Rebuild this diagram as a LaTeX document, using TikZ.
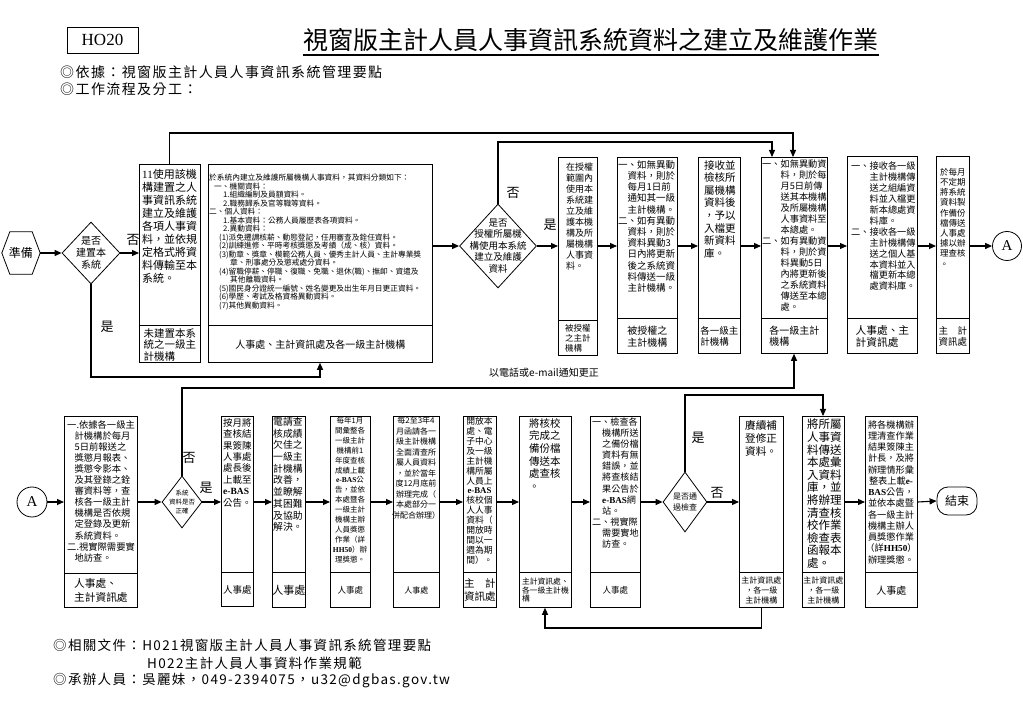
\documentclass[tikz,border=0pt]{standalone}
\usepackage{fontspec}
\setmainfont{Noto Sans CJK TC}
\newfontfamily\lat{Liberation Serif}
\newfontfamily\cjksp[LetterSpace=10]{Noto Sans CJK TC}
\usetikzlibrary{positioning,shapes.geometric,arrows.meta}
\newcommand{\fsz}[2]{\fontsize{#1}{#2}\selectfont}
\newcommand{\eb}{{\lat\bfseries e-BAS}}
\newcommand{\sepline}[2]{\draw[line width=0.8pt] ([yshift=#2pt]#1.south west) -- ([yshift=#2pt]#1.south east);}

\tikzset{
  proc/.style 2 args={draw, anchor=north west, minimum width=#1pt, minimum height=#2pt, inner sep=0pt, line width=0.8pt},
  cond/.style 2 args={draw, diamond, minimum width=#1pt, minimum height=#2pt, inner sep=0pt, line width=0.8pt},
  txt/.style={inner sep=0pt, align=left, anchor=north west},
  ctxt/.style={inner sep=0pt, align=center, anchor=north},
  foot/.style={inner sep=0pt, align=left},
  lbl/.style={inner sep=0pt, font=\fsz{13}{13}},
  link/.style={line width=1.1pt, -{Triangle[length=7pt,width=6pt]}}
}

\begin{document}
\begin{tikzpicture}[x=1pt,y=-1pt]
\fill[white] (0,0) rectangle (1023,708);
\useasboundingbox (0,0) rectangle (1023,708);

% header
\node[draw, line width=0.8pt, minimum width=71pt, minimum height=26pt, inner sep=0pt, font=\lat\fsz{17}{17}] (code) at (102.5,40) {HO20};
\node[inner sep=0pt, font=\fsz{25}{25}] (title) at (591,40) {視窗版主計人員人事資訊系統資料之建立及維護作業};
\draw[line width=1.4pt] ([yshift=-3pt]title.south west) -- ([yshift=-3pt]title.south east);
\node[foot, anchor=west, font=\cjksp\fsz{14}{14}] (basis) at (60,72) {◎依據：視窗版主計人員人事資訊系統管理要點};
\node[foot, anchor=west, font=\cjksp\fsz{14}{14}] (flow) at (60,89) {◎工作流程及分工：};

% first row
\node[inner sep=0pt, minimum width=38pt, minimum height=42pt, font=\fsz{12}{12}] (prep) at (21,253) {準備};
\draw[line width=0.8pt] (prep.west) -- ([xshift=8pt]prep.north west) -- ([xshift=-8pt]prep.north east) -- (prep.east) -- ([xshift=-8pt]prep.south east) -- ([xshift=8pt]prep.south west) -- cycle;

\node[cond={58}{62}] (d1) at (91,253) {};
\node[ctxt, anchor=center, font=\fsz{10}{12}] (dt1) at (d1) {是否\\建置本\\系統};

\node[proc={61}{198}] (s1) at (139,164) {};
\sepline{s1}{37}
\node[txt, font=\fsz{11}{13}] (ts1) at (142,169.5) {{\lat 11}使用該機\\構建置之人\\事資訊系統\\建立及維護\\各項人事資\\料，並依規\\定格式將資\\料傳輸至本\\系統。};
\node[foot, font=\fsz{10.5}{11.5}] (us1) at ([yshift=18pt]s1.south) {未建置本系\\統之一級主\\計機構};

\node[proc={224}{198}] (s2) at (208,164) {};
\sepline{s2}{37}
\node[txt, font=\fsz{7.7}{8.5}] (ts2) at (209,174) {於系統內建立及維護所屬機構人事資料，其資料分類如下：\\
\hspace*{5pt}一、機關資料：\\
\hspace*{14pt}1.組織編制及員額資料。\\
\hspace*{14pt}2.職務歸系及官等職等資料。\\
二、個人資料：\\
\hspace*{14pt}1.基本資料：公務人員履歷表各項資料。\\
\hspace*{14pt}2.異動資料：\\
\hspace*{10pt}(1)派免遷調核薪、動態登記，任用審查及銓任資料。\\
\hspace*{10pt}(2)訓練進修、平時考核獎懲及考績（成、核）資料。\\
\hspace*{10pt}(3)勳章、獎章、模範公務人員、優秀主計人員、主計專業獎\\
\hspace*{21pt}章、刑事處分及懲戒處分資料。\\
\hspace*{10pt}(4)留職停薪、停職、復職、免職、退休(職)、撫卹、資遣及\\
\hspace*{21pt}其他離職資料。\\
\hspace*{10pt}(5)國民身分證統一編號、姓名變更及出生年月日更正資料。\\
\hspace*{10pt}(6)學歷、考試及格資格異動資料。\\
\hspace*{10pt}(7)其他異動資料。};
\node[foot, font=\fsz{10}{10}] (us2) at ([yshift=18pt]s2.south) {人事處、主計資訊處及各一級主計機構};

\node[cond={77}{84}] (d2) at (498,246) {};
\node[ctxt, anchor=center, font=\fsz{9.5}{11.5}] (dt2) at (d2) {是否\\授權所屬機\\構使用本系統\\建立及維護\\資料};

\node[proc={39}{198}] (s3) at (558,157) {};
\sepline{s3}{35}
\node[txt, font=\fsz{9}{11}] (ts3) at (566,162.5) {在授權\\範圍內\\使用本\\系統建\\立及維\\護本機\\構及所\\屬機構\\人事資\\料。};
\node[foot, font=\fsz{8.5}{10}] (us3) at ([yshift=17.5pt]s3.south) {被授權\\之主計\\機構};

\node[proc={60}{196}] (s4) at (617,157) {};
\sepline{s4}{35}
\node[txt, font=\fsz{9.5}{11.2}] (ts4) at (618,160) {一、如無異動\\\hspace*{1em}資料，則於\\\hspace*{1em}每月1日前\\\hspace*{1em}通知其一級\\\hspace*{1em}主計機構。\\二、如有異動\\\hspace*{1em}資料，則於\\\hspace*{1em}資料異動3\\\hspace*{1em}日內將更新\\\hspace*{1em}後之系統資\\\hspace*{1em}料傳送一級\\\hspace*{1em}主計機構。};
\node[ctxt, anchor=center, font=\fsz{10}{12}] (us4) at ([yshift=17.5pt]s4.south) {被授權之\\主計機構};

\node[proc={42}{196}] (s5) at (698,157) {};
\sepline{s5}{35}
\node[txt, font=\fsz{10.5}{12.6}] (ts5) at (704,160) {接收並\\檢核所\\屬機構\\資料後\\，予以\\入檔更\\新資料\\庫。};
\node[foot, font=\fsz{9.5}{10.5}] (us5) at ([yshift=17.5pt]s5.south) {各一級主\\計機構};

\node[proc={66}{196}] (s6) at (761,157) {};
\sepline{s6}{35}
\node[txt, font=\fsz{9.2}{11}] (ts6) at (762,160) {一、如無異動資\\\hspace*{2em}料，則於每\\\hspace*{2em}月5日前傳\\\hspace*{2em}送其本機構\\\hspace*{2em}及所屬機構\\\hspace*{2em}人事資料至\\\hspace*{2em}本總處。\\二、如有異動資\\\hspace*{2em}料，則於資\\\hspace*{2em}料異動5日\\\hspace*{2em}內將更新後\\\hspace*{2em}之系統資料\\\hspace*{2em}傳送至本總\\\hspace*{2em}處。};
\node[foot, font=\fsz{10}{11}] (us6) at ([yshift=17.5pt]s6.south) {各一級主計\\機構};

\node[proc={70}{197}] (s7) at (847,156) {};
\sepline{s7}{35}
\node[txt, font=\fsz{9.2}{10.9}] (ts7) at (851,162) {一、接收各一級\\\hspace*{2em}主計機構傳\\\hspace*{2em}送之組編資\\\hspace*{2em}料並入檔更\\\hspace*{2em}新本總處資\\\hspace*{2em}料庫。\\二、接收各一級\\\hspace*{2em}主計機構傳\\\hspace*{2em}送之個人基\\\hspace*{2em}本資料並入\\\hspace*{2em}檔更新本總\\\hspace*{2em}處資料庫。};
\node[foot, font=\fsz{10.7}{12}] (us7) at ([yshift=17.5pt]s7.south) {人事處、主\\計資訊處};

\node[proc={33}{197}] (s8) at (936,156) {};
\sepline{s8}{35}
\node[txt, font=\fsz{8.5}{10.2}] (ts8) at (940,168) {於每月\\不定期\\將系統\\資料製\\作備份\\檔傳送\\人事處\\據以辦\\理查核\\。};
\node[foot, font=\fsz{9.5}{11}] (us8) at ([yshift=17.5pt]s8.south) {主\hspace{1em}計\\資訊處};

\node[draw, circle, line width=0.8pt, minimum size=29pt, inner sep=0pt, font=\lat\fsz{15}{15}] (A1) at (1007,246) {A};

% second row
\node[draw, circle, line width=0.8pt, minimum size=30pt, inner sep=0pt, font=\lat\fsz{15}{15}] (A2) at (32,502) {A};

\node[proc={73}{191}] (r1) at (64,416) {};
\sepline{r1}{34}
\node[txt, font=\fsz{9.3}{11.1}] (tr1) at (67,420) {一.依據各一級主\\\hspace*{0.8em}計機構於每月\\\hspace*{0.8em}5日前報送之\\\hspace*{0.8em}獎懲月報表、\\\hspace*{0.8em}獎懲令影本、\\\hspace*{0.8em}及其登錄之銓\\\hspace*{0.8em}審資料等，查\\\hspace*{0.8em}核各一級主計\\\hspace*{0.8em}機構是否依規\\\hspace*{0.8em}定登錄及更新\\\hspace*{0.8em}系統資料。\\二.視實際需要實\\\hspace*{0.8em}地訪查。};
\node[foot, font=\fsz{10.7}{14}] (ur1) at ([yshift=17pt]r1.south) {人事處、\\主計資訊處};

\node[cond={40}{52}] (d3) at (182,502) {};
\node[ctxt, anchor=center, font=\fsz{6.5}{9}] (dt3) at (d3) {系統\\資料是否\\正確};

\node[proc={32}{190}] (r2) at (221,416) {};
\sepline{r2}{34}
\node[txt, font=\fsz{9.5}{11.4}] (tr2) at (223,418) {按月將\\查核結\\果簽陳\\人事處\\處長後\\上載至\\\eb\\公告。};
\node[foot, font=\fsz{9.5}{10}] (ur2) at ([yshift=17pt]r2.south) {人事處};

\node[proc={33}{191}] (r3) at (272,416) {};
\sepline{r3}{35}
\node[txt, font=\fsz{9.8}{11.7}] (tr3) at (273,417) {電請查\\核成績\\欠佳之\\一級主\\計機構\\改善，\\並瞭解\\其困難\\及協助\\解決。};
\node[foot, font=\fsz{11}{11}] (ur3) at ([yshift=17.5pt]r3.south) {人事處};

\node[proc={40}{191}] (r4) at (330,416) {};
\sepline{r4}{35}
\node[ctxt, font=\fsz{7.5}{9.9}] (tr4) at (350,417) {每年1月\\間彙整各\\一級主計\\機構前1\\年度查核\\成績上載\\\eb 公\\告，並依\\本處暨各\\一級主計\\機構主辦\\人員獎懲\\作業（詳\\{\lat\bfseries HH50}）辦\\理獎懲。};
\node[foot, font=\fsz{8.5}{9}] (ur4) at ([yshift=17.5pt]r4.south) {人事處};

\node[proc={46}{191}] (r5) at (393,416) {};
\sepline{r5}{35}
\node[ctxt, font=\fsz{8}{10.5}] (tr5) at (416,417) {每2至3年4\\月函請各一\\級主計機構\\全面清查所\\屬人員資料\\，並於當年\\度12月底前\\辦理完成（\\本處部分一\\併配合辦理）};
\node[foot, font=\fsz{8}{9}] (ur5) at ([yshift=17.5pt]r5.south) {人事處};

\node[proc={33}{191}] (r6) at (463,416) {};
\sepline{r6}{35}
\node[ctxt, font=\fsz{8.8}{9.9}] (tr6) at (479.5,417) {開放本\\處、電\\子中心\\及一級\\主計機\\構所屬\\人員上\\\eb\\核校個\\人人事\\資料（\\開放時\\間以一\\週為期\\間）。};
\node[foot, font=\fsz{10.5}{13}] (ur6) at ([yshift=17.5pt]r6.south) {主\hspace{1em}計\\資訊處};

\node[proc={52}{191}] (r7) at (519,416) {};
\sepline{r7}{35}
\node[txt, font=\fsz{10.5}{12.7}] (tr7) at (529,418) {將核校\\完成之\\備份檔\\傳送本\\處查核\\。};
\node[foot, font=\fsz{7.8}{8.5}] (ur7) at ([yshift=17.5pt]r7.south) {主計資訊處、\\各一級主計機\\構};

\node[proc={50}{191}] (r8) at (590,416) {};
\sepline{r8}{35}
\node[txt, font=\fsz{9.1}{11.1}] (tr8) at (592,417.5) {一、檢查各\\\hspace*{1.1em}機構所送\\\hspace*{1.1em}之備份檔\\\hspace*{1.1em}資料有無\\\hspace*{1.1em}錯誤，並\\\hspace*{1.1em}將查核結\\\hspace*{1.1em}果公告於\\\hspace*{1.1em}\eb 網\\\hspace*{1.1em}站。\\二、視實際\\\hspace*{1.1em}需要實地\\\hspace*{1.1em}訪查。};
\node[foot, font=\fsz{8.5}{9}] (ur8) at ([yshift=17.5pt]r8.south) {人事處};

\node[cond={44}{60}] (d4) at (685,502) {};
\node[ctxt, anchor=center, font=\fsz{8}{11}] (dt4) at (d4) {是否通\\過檢查};

\node[proc={44}{191}] (r9) at (739,416) {};
\sepline{r9}{35}
\node[txt, font=\fsz{10.6}{13.3}] (tr9) at (745,420) {賡續補\\登修正\\資料。};
\node[ctxt, anchor=center, font=\fsz{8}{10}] (ur9) at ([yshift=17.5pt]r9.south) {主計資訊處\\，各一級\\主計機構};

\node[proc={42}{191}] (r10) at (802,416) {};
\sepline{r10}{35}
\node[txt, font=\fsz{11.5}{12.6}] (tr10) at (807,419) {將所屬\\人事資\\料傳送\\本處彙\\入資料\\庫，並\\將辦理\\清查核\\校作業\\檢查表\\函報本\\處。};
\node[ctxt, anchor=center, font=\fsz{8}{10}] (ur10) at ([yshift=17.5pt]r10.south) {主計資訊處\\，各一級\\主計機構};

\node[proc={52}{191}] (r11) at (865,416) {};
\sepline{r11}{35}
\node[ctxt, font=\fsz{9.2}{11.25}] (tr11) at (891,420) {將各機構辦\\理清查作業\\結果簽陳主\\計長，及將\\辦理情形彙\\整表上載{\lat\bfseries e-}\\{\lat\bfseries BAS}公告，\\並依本處暨\\各一級主計\\機構主辦人\\員獎懲作業\\（詳{\lat\bfseries HH50}）\\辦理獎懲。};
\node[foot, font=\fsz{10}{10}] (ur11) at ([yshift=17.5pt]r11.south) {人事處};

\node[draw, rounded corners=11pt, line width=0.8pt, minimum width=40pt, minimum height=28pt, inner sep=0pt, font=\fsz{12}{12}] (fin) at (957,501) {結束};

% connectors, first row
\draw[link] (prep.east) -- (d1.west);
\draw[link] (d1.east) -- (d1.east -| s1.west);
\draw[link] (s2.east |- d2) -- (d2.west);
\draw[link] (d2.east) -- (d2.east -| s3.west);
\draw[link] (s3.east |- d2) -- (s4.west |- d2);
\draw[link] (s4.east |- d2) -- (s5.west |- d2);
\draw[link] (s5.east |- d2) -- (s6.west |- d2);
\draw[link] (s6.east |- d2) -- (s7.west |- d2);
\draw[link] (s7.east |- d2) -- (s8.west |- d2);
\draw[link] (s8.east |- d2) -- (A1.west);

% connectors, second row
\draw[link] (A2.east) -- (A2.east -| r1.west);
\draw[link] (r1.east |- d3) -- (d3.west);
\draw[link] (d3.east) -- (d3.east -| r2.west);
\draw[link] (r2.east |- d3) -- (r3.west |- d3);
\draw[link] (r3.east |- d3) -- (r4.west |- d3);
\draw[link] (r4.east |- d3) -- (r5.west |- d3);
\draw[link] (r5.east |- d3) -- (r6.west |- d3);
\draw[link] (r6.east |- d3) -- (r7.west |- d3);
\draw[link] (r7.east |- d3) -- (r8.west |- d3);
\draw[link] (r8.east |- d4) -- (d4.west);
\draw[link] (d4.east) -- (d4.east -| r9.west);
\draw[link] (r10.east |- d4) -- (r11.west |- d4);
\draw[link] (r11.east |- d4) -- (fin.west);

% loops
\coordinate (j1) at (793,133);
\coordinate (j2) at (772,142);
\coordinate (j3) at (320,377);
\coordinate (j4) at (794,388);
\coordinate (j5) at (823,395);
\coordinate (j6) at (545,628);
\draw[link] (s1.north) |- (j1) -- (j1 |- s6.north);
\draw[link] (d2.north) |- (j2) -- (j2 |- s6.north);
\draw[link] (d1.south) |- (j3) -- (j3 |- s2.south);
\draw[link] (d3.north) |- (j4) -- (j4 |- s6.south);
\draw[link] (d4.north) |- (j5) -- (j5 |- r10.north);
\draw[link] (r9.south) |- (j6) -- (j6 |- r7.south);

% labels
\node[lbl] (no1) at (133,240) {否};
\node[lbl] (yes1) at (107,327) {是};
\node[lbl] (no2) at (513,193) {否};
\node[lbl] (yes2) at (550,225) {是};
\node[lbl] (no3) at (189,458) {否};
\node[lbl] (yes3) at (206,488) {是};
\node[lbl] (yes4) at (698,438) {是};
\node[lbl] (no4) at (717,493) {否};
\node[inner sep=0pt, font=\fsz{10}{10}] (mailnote) at (544,373) {以電話或e-mail通知更正};

% footer
\node[foot, anchor=west, font=\cjksp\fsz{13.5}{15}] (docs) at (53,645) {◎相關文件：H021視窗版主計人員人事資訊系統管理要點};
\node[foot, anchor=west, font=\cjksp\fsz{13.5}{15}] (docs2) at (147,663) {H022主計人員人事資料作業規範};
\node[foot, anchor=west, font=\cjksp\fsz{13.5}{15}] (contact) at (53,681) {◎承辦人員：吳麗妹，049-2394075，u32@dgbas.gov.tw};
\end{tikzpicture}
\end{document}
